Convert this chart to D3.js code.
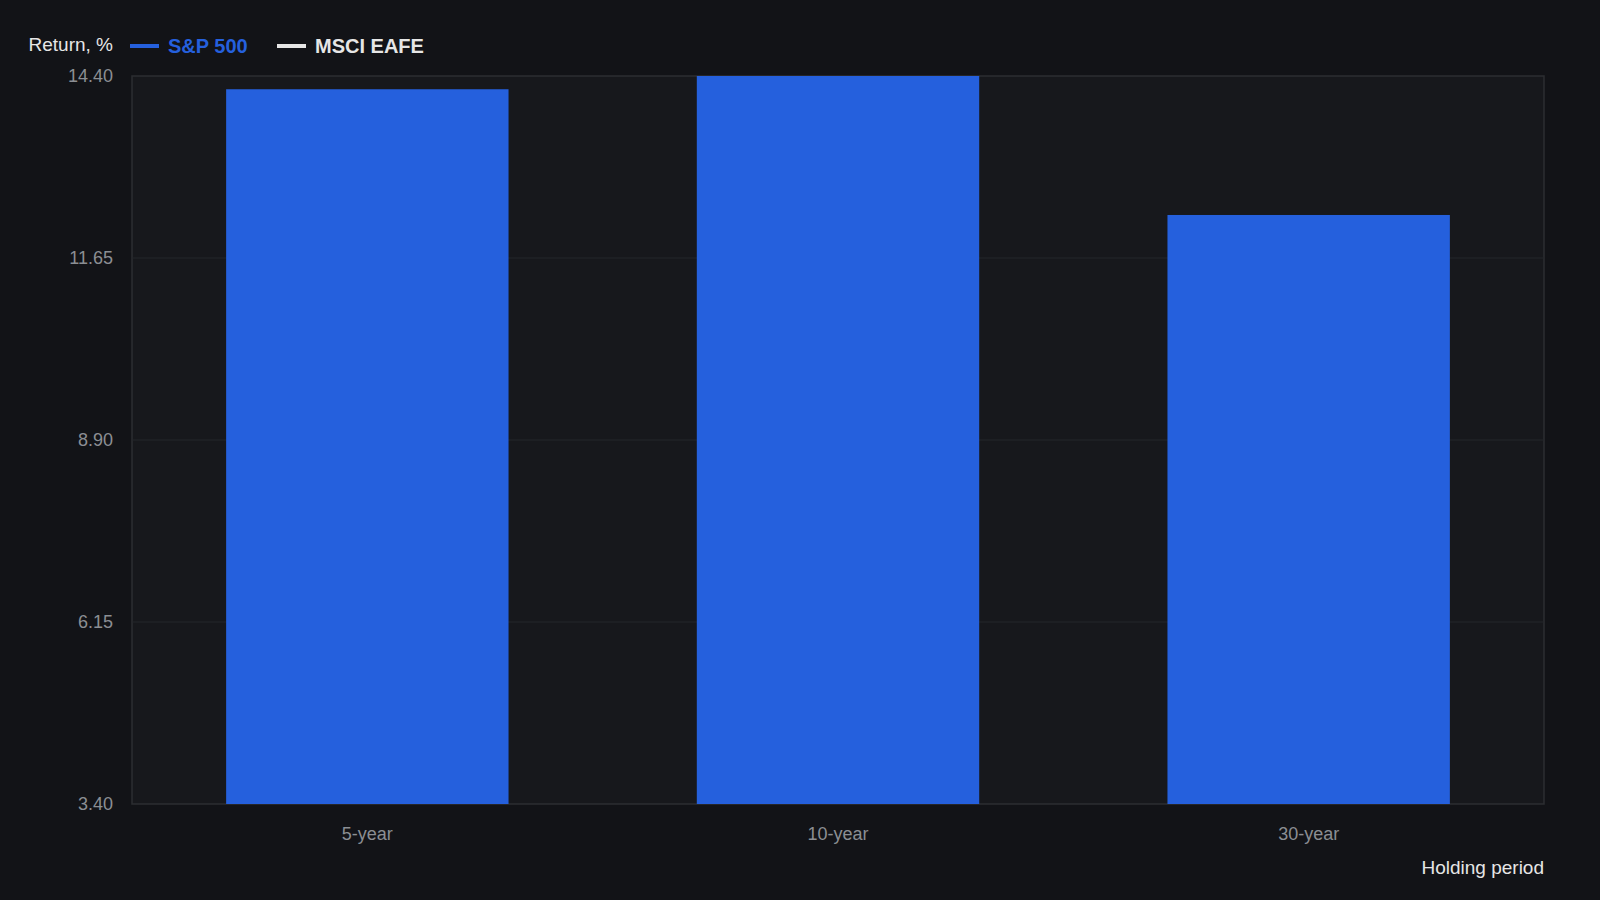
<!DOCTYPE html>
<html>
<head>
<meta charset="utf-8">
<script src="https://cdn.jsdelivr.net/npm/d3@7"></script>
<style>
  html, body { margin: 0; padding: 0; background: #121317; }
  svg { display: block; font-family: "Liberation Sans", Arial, sans-serif; }
</style>
</head>
<body>
<svg id="svg"></svg>
<script>
// Chart data
const periods = ["5-year", "10-year", "30-year"];
const sp500Returns = [14.2, 14.4, 12.3];
const yTicks = [3.40, 6.15, 8.90, 11.65, 14.40];
const legendNames = ["S&P 500", "MSCI EAFE"];
const legendColors = ["#2560dd", "#e6e6e6"];

const width = 1600;
const height = 900;
const margin = { top: 76, right: 56, bottom: 96, left: 132 };
const chartWidth = width - margin.left - margin.right;
const chartHeight = height - margin.top - margin.bottom;

let svg = d3.select("#svg")
    .attr("width", width)
    .attr("height", height);

svg.append("rect")
    .attr("width", width)
    .attr("height", height)
    .attr("fill", "#121317");

let chart = svg.append("g")
    .attr("transform", "translate(" + margin.left + "," + margin.top + ")");

let x = d3.scaleBand()
    .domain(periods)
    .range([0, chartWidth])
    .paddingInner(0.4)
    .paddingOuter(0.2);

let y = d3.scaleLinear()
    .domain([3.40, 14.40])
    .range([chartHeight, 0]);

// plot background
chart.append("rect")
    .attr("width", chartWidth)
    .attr("height", chartHeight)
    .attr("fill", "#17181c")
    .attr("stroke", "#2c2e32")
    .attr("stroke-width", 1.5);

// grid lines
chart.append("g")
    .selectAll("line")
    .data(yTicks.slice(1, -1))
    .enter()
    .append("line")
    .attr("x1", 0)
    .attr("x2", chartWidth)
    .attr("y1", d => y(d))
    .attr("y2", d => y(d))
    .attr("stroke", "#24262a")
    .attr("stroke-width", 1);

// bars
chart.selectAll(".bar")
    .data(sp500Returns)
    .enter()
    .append("rect")
    .attr("class", "bar")
    .attr("x", (d, i) => x(periods[i]))
    .attr("y", d => y(d))
    .attr("width", x.bandwidth())
    .attr("height", d => chartHeight - y(d))
    .attr("fill", "#2560dd");

// y axis
let yAxis = chart.append("g")
    .call(d3.axisLeft(y).tickValues(yTicks).tickFormat(d3.format(".2f")).tickSize(0).tickPadding(19));
yAxis.select(".domain").remove();
yAxis.selectAll("text")
    .attr("fill", "#8b8e93")
    .style("font-size", "18px")
    .style("font-family", "Liberation Sans, Arial, sans-serif");

// x axis
let xAxis = chart.append("g")
    .attr("transform", "translate(0," + chartHeight + ")")
    .call(d3.axisBottom(x).tickSize(0).tickPadding(23));
xAxis.select(".domain").remove();
xAxis.selectAll("text")
    .attr("fill", "#8b8e93")
    .style("font-size", "18px")
    .style("font-family", "Liberation Sans, Arial, sans-serif");

// axis titles
svg.append("text")
    .attr("x", 113)
    .attr("y", 51)
    .attr("text-anchor", "end")
    .attr("fill", "#e6e6e6")
    .style("font-size", "19px")
    .text("Return, %");

svg.append("text")
    .attr("x", margin.left + chartWidth)
    .attr("y", 874)
    .attr("text-anchor", "end")
    .attr("fill", "#e6e6e6")
    .style("font-size", "19px")
    .text("Holding period");

// legend
const legendX = [130, 277];
let legend = svg.append("g");
legendNames.forEach((name, i) => {
    legend.append("line")
        .attr("x1", legendX[i])
        .attr("x2", legendX[i] + 29)
        .attr("y1", 46)
        .attr("y2", 46)
        .attr("stroke", legendColors[i])
        .attr("stroke-width", 4);
    legend.append("text")
        .attr("x", legendX[i] + 38)
        .attr("y", 53)
        .attr("fill", legendColors[i])
        .style("font-size", "20px")
        .style("font-weight", "bold")
        .text(name);
});
</script>
</body>
</html>
